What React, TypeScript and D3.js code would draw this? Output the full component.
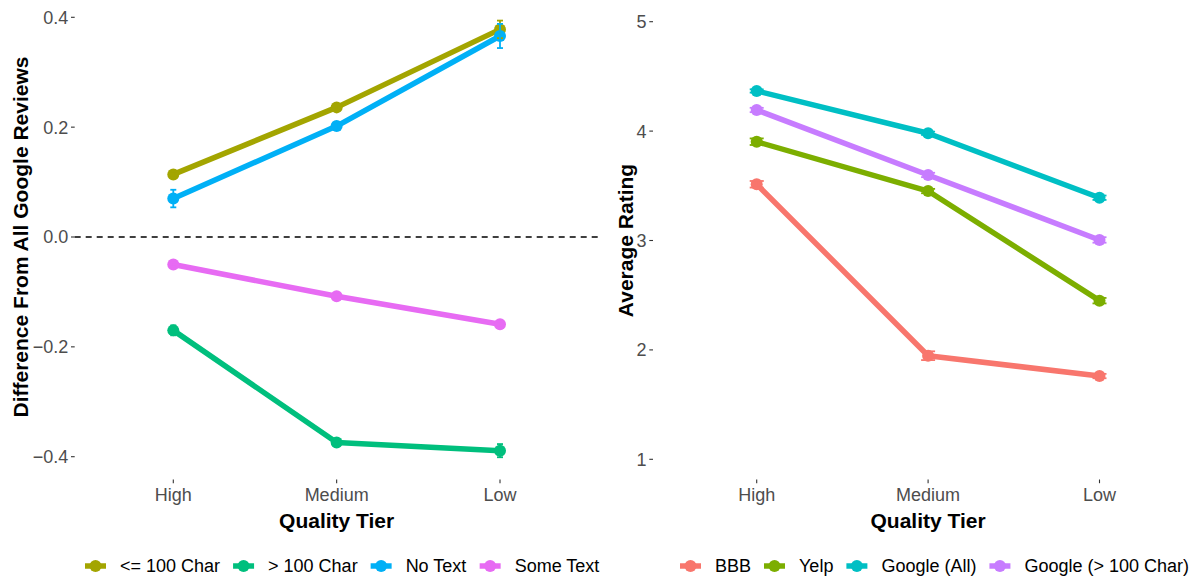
import React from "react";
import * as d3 from "d3";

const tiers = ["High", "Medium", "Low"];

// Left panel: difference from all Google reviews
const leftSeries = ["<= 100 Char", "> 100 Char", "No Text", "Some Text"];
const leftColors = ["#A3A500", "#00BF7D", "#00B0F6", "#E76BF3"];
const leftValues = [
  [0.114, 0.236, 0.378],
  [-0.170, -0.374, -0.389],
  [0.070, 0.202, 0.366],
  [-0.050, -0.108, -0.159],
];
const leftErrors = [
  [0.005, 0.004, 0.016],
  [0.009, 0.005, 0.012],
  [0.016, 0.006, 0.022],
  [0.004, 0.003, 0.005],
];
const leftTicks = [-0.4, -0.2, 0.0, 0.2, 0.4];

// Right panel: average rating
const rightSeries = ["BBB", "Yelp", "Google (All)", "Google (> 100 Char)"];
const rightColors = ["#F8766D", "#7CAE00", "#00BFC4", "#C77CFF"];
const rightValues = [
  [3.514, 1.947, 1.761],
  [3.903, 3.452, 2.450],
  [4.367, 3.980, 3.391],
  [4.193, 3.599, 3.005],
];
const rightErrors = [
  [0.03, 0.04, 0.02],
  [0.03, 0.02, 0.025],
  [0.015, 0.015, 0.02],
  [0.02, 0.02, 0.025],
];
const rightTicks = [1, 2, 3, 4, 5];

const FONT = "'Liberation Sans', Arial, Helvetica, sans-serif";
const TEXT_SIZE = 18;
const TITLE_SIZE = 21;

function measure(text: string, size: number, bold = false) {
  if (typeof document === "undefined") return text.length * size * 0.55;
  const c = document.createElement("canvas");
  const ctx = c.getContext("2d");
  if (!ctx) return text.length * size * 0.55;
  ctx.font = `${bold ? "bold " : ""}${size}px 'Liberation Sans', Arial, sans-serif`;
  return ctx.measureText(text).width;
}

type PanelProps = {
  series: string[];
  colors: string[];
  values: number[][];
  errors: number[][];
  ticks: number[];
  tickFmt: (v: number) => string;
  yDomain: [number, number];
  yRange: [number, number];
  xRange: [number, number];
  axisX: number;
  panelRight: number;
  yTitle: string;
  yTitleX: number;
  legendStart: number;
  capHalf: number;
  zeroLine?: boolean;
};

function Panel(p: PanelProps) {
  const x = d3.scalePoint<string>().domain(tiers).range(p.xRange).padding(0);
  const y = d3.scaleLinear().domain(p.yDomain).range(p.yRange);
  const line = d3
    .line<number>()
    .x((_, i) => x(tiers[i]) as number)
    .y((v) => y(v));

  const tickColor = "#333333";
  const labelColor = "#4D4D4D";
  const titleCenterX = (p.xRange[0] + p.xRange[1]) / 2;
  const titleCenterY = (p.yRange[0] + p.yRange[1]) / 2;

  // legend layout
  const fs = TEXT_SIZE;
  const keyW = 21;
  const keyGap = 14;
  const itemGap = 13;
  const widths = p.series.map((s) => measure(s, fs));
  let cursor = p.legendStart;
  const legendItems = p.series.map((s, i) => {
    const item = { s, i, keyX: cursor, textX: cursor + keyW + keyGap };
    cursor += keyW + keyGap + widths[i] + itemGap;
    return item;
  });
  const legendY = 566;

  return (
    <g>
      {p.ticks.map((t) => (
        <g key={t}>
          <line
            x1={p.axisX - 3.7}
            x2={p.axisX}
            y1={y(t)}
            y2={y(t)}
            stroke={tickColor}
            strokeWidth={1.1}
          />
          <text
            x={p.axisX - 6.5}
            y={y(t)}
            dy="0.36em"
            textAnchor="end"
            fontSize={TEXT_SIZE}
            fill={labelColor}
            fontFamily={FONT}
          >
            {p.tickFmt(t)}
          </text>
        </g>
      ))}
      {tiers.map((c) => (
        <g key={c}>
          <line
            x1={x(c)}
            x2={x(c)}
            y1={479.5}
            y2={483.2}
            stroke={tickColor}
            strokeWidth={1.1}
          />
          <text
            x={x(c)}
            y={500.5}
            textAnchor="middle"
            fontSize={TEXT_SIZE}
            fill={labelColor}
            fontFamily={FONT}
          >
            {c}
          </text>
        </g>
      ))}
      <text
        x={titleCenterX}
        y={527.5}
        textAnchor="middle"
        fontSize={TITLE_SIZE}
        fontWeight="bold"
        fill="#000"
        fontFamily={FONT}
      >
        Quality Tier
      </text>
      <text
        transform={`translate(${p.yTitleX},${titleCenterY}) rotate(-90)`}
        textAnchor="middle"
        dy="0.36em"
        fontSize={TITLE_SIZE}
        fontWeight="bold"
        fill="#000"
        fontFamily={FONT}
      >
        {p.yTitle}
      </text>
      {p.zeroLine && (
        <line
          x1={p.axisX}
          x2={p.panelRight}
          y1={y(0)}
          y2={y(0)}
          stroke="#000"
          strokeWidth={1.4}
          strokeDasharray="6,5"
        />
      )}
      {p.values.map((vals, i) => (
        <path
          key={"l" + i}
          d={line(vals) || ""}
          fill="none"
          stroke={p.colors[i]}
          strokeWidth={5.5}
          strokeLinejoin="round"
        />
      ))}
      {p.values.map((vals, i) =>
        vals.map((v, j) => (
          <circle
            key={`p${i}-${j}`}
            cx={x(tiers[j])}
            cy={y(v)}
            r={6}
            fill={p.colors[i]}
          />
        ))
      )}
      {p.values.map((vals, i) =>
        vals.map((v, j) => {
          const cx = x(tiers[j]) as number;
          const e = p.errors[i][j];
          const y1 = y(v - e);
          const y2 = y(v + e);
          return (
            <g key={`e${i}-${j}`} stroke={p.colors[i]} strokeWidth={1.8}>
              <line x1={cx} x2={cx} y1={y1} y2={y2} />
              <line x1={cx - p.capHalf} x2={cx + p.capHalf} y1={y1} y2={y1} />
              <line x1={cx - p.capHalf} x2={cx + p.capHalf} y1={y2} y2={y2} />
            </g>
          );
        })
      )}
      {legendItems.map((it) => (
        <g key={"lg" + it.i}>
          <line
            x1={it.keyX}
            x2={it.keyX + keyW}
            y1={legendY}
            y2={legendY}
            stroke={p.colors[it.i]}
            strokeWidth={5.5}
          />
          <circle cx={it.keyX + keyW / 2} cy={legendY} r={6} fill={p.colors[it.i]} />
          <text
            x={it.textX}
            y={legendY}
            dy="0.36em"
            fontSize={fs}
            fill="#000"
            fontFamily={FONT}
          >
            {it.s}
          </text>
        </g>
      ))}
    </g>
  );
}

export default function App() {
  const fmtLeft = (v: number) => d3.format(".1f")(v).replace("-", "\u2212");
  return (
    <svg
      width={1194}
      height={580}
      style={{ position: "absolute", left: 0, top: 0, background: "#fff" }}
    >
      <rect width={1194} height={580} fill="#fff" />
      <Panel
        series={leftSeries}
        colors={leftColors}
        values={leftValues}
        errors={leftErrors}
        ticks={leftTicks}
        tickFmt={fmtLeft}
        yDomain={[-0.4, 0.4]}
        yRange={[456.7, 17.3]}
        xRange={[173.3, 500]}
        axisX={74.7}
        panelRight={599}
        yTitle="Difference From All Google Reviews"
        yTitleX={20}
        legendStart={85}
        capHalf={3}
        zeroLine
      />
      <Panel
        series={rightSeries}
        colors={rightColors}
        values={rightValues}
        errors={rightErrors}
        ticks={rightTicks}
        tickFmt={(v) => d3.format("d")(v)}
        yDomain={[1, 5]}
        yRange={[459.3, 21.7]}
        xRange={[756.7, 1099.5]}
        axisX={653}
        panelRight={1194}
        yTitle="Average Rating"
        yTitleX={625}
        legendStart={680}
        capHalf={7}
      />
    </svg>
  );
}
